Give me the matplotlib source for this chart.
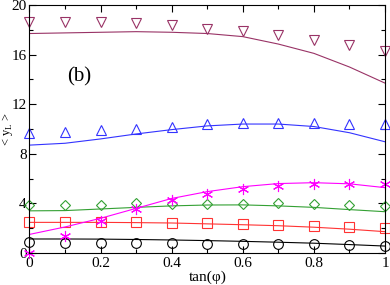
import numpy as np
import matplotlib
matplotlib.use("Agg")
from matplotlib import pyplot as plt
from matplotlib.ticker import MultipleLocator, FuncFormatter

# tan(phi) values where each series is sampled
tanphi = [0.0, 0.1, 0.2, 0.3, 0.4, 0.5, 0.6, 0.7, 0.8, 0.9, 1.0]

# symbols (simulation)
circ_pts = [0.86, 0.80, 0.78, 0.78, 0.78, 0.76, 0.74, 0.72, 0.70, 0.64, 0.55]
sq_pts = [2.50, 2.48, 2.47, 2.46, 2.44, 2.40, 2.30, 2.25, 2.18, 2.07, 2.02]
dia_pts = [3.87, 3.87, 3.90, 4.00, 3.95, 3.95, 3.95, 4.02, 3.98, 3.87, 3.80]
star_pts = [0.00, 1.40, 2.60, 3.52, 4.27, 4.76, 5.13, 5.40, 5.56, 5.58, 5.55]
up_pts = [9.70, 9.72, 9.90, 10.00, 10.20, 10.40, 10.50, 10.50, 10.45, 10.40, 10.40]
down_pts = [18.65, 18.62, 18.60, 18.57, 18.40, 18.10, 17.90, 17.60, 17.20, 16.80, 16.30]

# curves (theory)
circ_line = [1.13, 1.13, 1.12, 1.09, 1.05, 1.00, 0.94, 0.87, 0.79, 0.68, 0.56]
sq_line = [2.47, 2.47, 2.47, 2.45, 2.42, 2.35, 2.28, 2.20, 2.08, 1.92, 1.72]
dia_line = [3.40, 3.42, 3.55, 3.68, 3.80, 3.87, 3.88, 3.80, 3.68, 3.50, 3.33]
star_line = [1.50, 2.10, 2.80, 3.60, 4.40, 4.95, 5.35, 5.60, 5.67, 5.58, 5.27]
up_line = [8.70, 8.85, 9.20, 9.60, 9.95, 10.25, 10.40, 10.40, 10.20, 9.70, 8.97]
down_line = [17.70, 17.75, 17.80, 17.85, 17.80, 17.70, 17.45, 16.85, 16.10, 15.00, 13.70]

series = [
    (circ_pts, circ_line, 'o', '#000000', 7.0),
    (sq_pts, sq_line, 's', '#ff3333', 6.5),
    (dia_pts, dia_line, 'D', '#33a033', 5.5),
    (star_pts, star_line, (6, 2, 0), '#ff00ff', 8.0),
    (up_pts, up_line, '^', '#3333ff', 7.5),
    (down_pts, down_line, 'v', '#993366', 7.5),
]

fig = plt.figure(figsize=(3.9, 2.85), dpi=100)
ax = fig.add_axes([29.5/390, 32/285, 355.5/390, 248/285])

for pts, line, mk, col, ms in series:
    ax.plot(tanphi, line, color=col, lw=0.8)
    ax.plot(tanphi, pts, linestyle='none', marker=mk, ms=ms, mfc='none',
            mec=col, mew=0.8, clip_on=False)

ax.set_xlim(0, 1)
ax.set_ylim(0, 20)
ax.xaxis.set_major_locator(MultipleLocator(0.2))
ax.xaxis.set_minor_locator(MultipleLocator(0.1))
ax.yaxis.set_major_locator(MultipleLocator(4))
ax.yaxis.set_minor_locator(MultipleLocator(2))
ax.xaxis.set_major_formatter(FuncFormatter(lambda v, p: '%g' % round(v, 2)))
ax.tick_params(which='both', direction='in', top=True, right=True,
               labelsize=11, width=0.8)
ax.tick_params(which='major', length=5)
ax.tick_params(which='minor', length=3)
ax.tick_params(axis='y', pad=2)
ax.tick_params(axis='x', pad=3)
for lab in ax.get_xticklabels() + ax.get_yticklabels():
    lab.set_family('Liberation Serif')

ax.set_xlabel('tan(\u03c6)', family='Liberation Serif', fontsize=11, labelpad=0)
ax.set_ylabel('< y$_\\mathregular{L}$ >', family='Liberation Serif',
              fontsize=9)
ax.yaxis.set_label_coords(-0.04, 0.5)
ax.text(0.14, 0.71, '(b)', transform=ax.transAxes, ha='center', va='center',
        family='Liberation Serif', fontsize=15)

fig.savefig('out.png', dpi=100)
